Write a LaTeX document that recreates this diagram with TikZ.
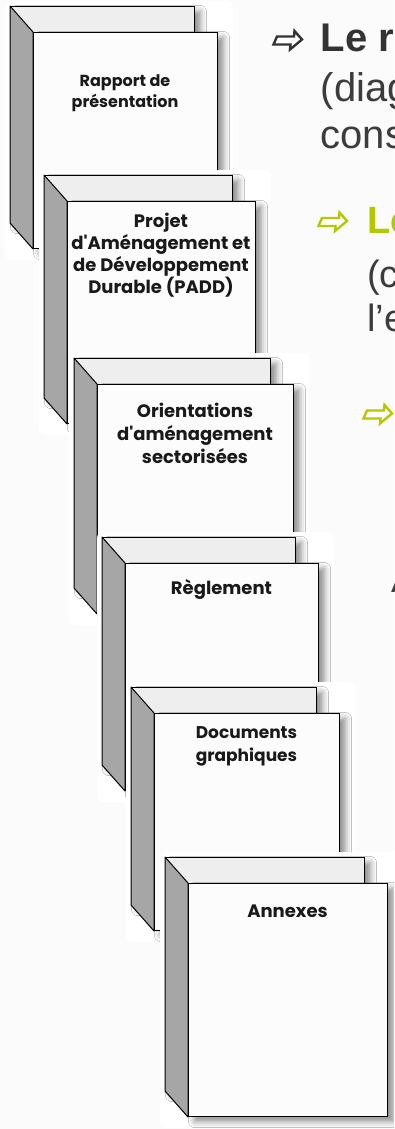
\documentclass[tikz,border=0pt]{standalone}
\usepackage{fontspec}
\newfontfamily\docfont{Poppins}
\newfontfamily\slidefont{Liberation Sans}
\usepackage{tikz}
\usetikzlibrary{positioning, shadows.blur}
\definecolor{sidegrey}{RGB}{166,166,166}
\definecolor{topgrey}{RGB}{238,238,238}
\definecolor{pagegrey}{RGB}{251,251,251}
\definecolor{inkgrey}{RGB}{51,51,51}
\definecolor{textgrey}{RGB}{60,60,60}
\definecolor{limegreen}{RGB}{180,200,0}

\begin{document}
\begin{tikzpicture}[x=1pt,y=-1pt,
        front/.style={draw=black,fill=white!99!black,line width=1pt,inner sep=0pt,anchor=north west,
            blur shadow={shadow xshift=6pt,shadow yshift=-5pt,shadow blur radius=6pt,shadow opacity=45}},
        backpanel/.style={front,fill=topgrey},
        side/.style={draw=black,fill=sidegrey,line width=1pt,line join=round},
        doclabel/.style={align=center,anchor=base,inner sep=0pt,text=black!90},
        bullet/.style={anchor=base west,inner sep=0pt},
        bulletarrow/.pic={\draw[line width=2.4pt,fill=white,pic actions]
            (5,-3.5) -- (22,-3.5) -- (22.5,-9) -- (30,-0.5) -- (18,9.5) -- (18.5,4.5) -- (1.5,4.5) -- cycle;}]
    \useasboundingbox (0,0) rectangle (394,1129);
    \clip (0,0) rectangle (394,1129);
    \fill[pagegrey] (0,0) rectangle (394,1129);

    % the six documents, back to front (\off = baseline of the last line)
    \foreach \n/\x/\y/\w/\h/\s/\b/\off/\txt in {
        rapport/33/32/184/216/16/21/76/{Rapport de\\présentation},
        padd/67/201/188/222/18/22/92/{Projet\\d'Aménagement et\\de Développement\\Durable (PADD)},
        orientations/97/384/196/229/18/23/79/{Orientations\\d'aménagement\\sectorisées},
        reglement/125/563/193/227/18/23/31/{Règlement},
        graphiques/154/713/185/217/17/23/48/{Documents\\graphiques},
        annexes/188/883/199/233/18/23/34/{Annexes}}
    {
        \fill[white,rounded corners=6pt] (\x-28,\y-31) rectangle (\x+\w+16,\y+\h+12);
        \node[backpanel,minimum width=\w pt,minimum height=\h pt] (\n-back) at (\x-23,\y-26) {};
        \node[front,minimum width=\w pt,minimum height=\h pt] (\n) at (\x,\y) {};
        \draw[side] (\n-back.north west) -- (\n.north west) -- (\n.south west) -- (\n-back.south west) -- cycle;
        \node[doclabel,font=\docfont\bfseries\fontsize{\s}{\b}\selectfont] (\n-text) at (\x+\w/2,\y+\off) {\txt};
    }

    % slide text, cut by the right edge
    \pic[draw=inkgrey] at (272,40) {bulletarrow};
    \node[bullet,font=\slidefont\bfseries\fontsize{40}{48}\selectfont,text=inkgrey] (titre) at (320.5,51.7) {Le r};
    \node[bullet,font=\slidefont\fontsize{40}{48}\selectfont,text=textgrey] (titre-b) at (320.5,101.7) {(diag};
    \node[bullet,font=\slidefont\fontsize{40}{48}\selectfont,text=textgrey] (titre-c) at (320.5,149) {cons};

    \pic[draw=limegreen] at (317,221.5) {bulletarrow};
    \node[bullet,font=\slidefont\bfseries\fontsize{38}{46}\selectfont,text=limegreen] (soustitre) at (367,233) {Le};
    \node[bullet,font=\slidefont\fontsize{38}{46}\selectfont,text=textgrey] (soustitre-b) at (367,287) {(c};
    \node[bullet,font=\slidefont\fontsize{38}{46}\selectfont,text=textgrey] (soustitre-c) at (367,331) {l’e};

    \pic[draw=limegreen] at (362,414) {bulletarrow};
    \node[bullet,font=\slidefont\fontsize{36}{44}\selectfont,text=textgrey] (suite) at (391,592) {A};
\end{tikzpicture}
\end{document}
